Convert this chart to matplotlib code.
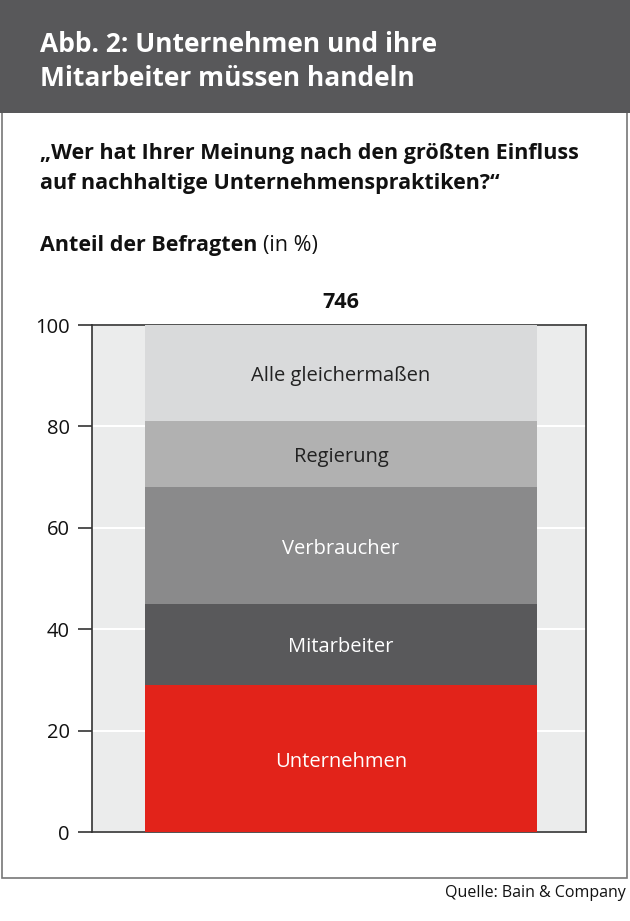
import matplotlib
matplotlib.use("Agg")
import matplotlib.pyplot as plt
from matplotlib.patches import Rectangle

plt.rcParams['font.family'] = ['Open Sans', 'DejaVu Sans']

# data (share of respondents, %)
categories = ["Unternehmen", "Mitarbeiter", "Verbraucher", "Regierung", "Alle gleichermaßen"]
values = [29, 16, 23, 13, 19]
colors = ["#e2231a", "#59595b", "#8a8a8b", "#b1b1b1", "#d9dadb"]
label_colors = ["white", "white", "white", "#222222", "#222222"]
bar_label = "746"
yticks = [0, 20, 40, 60, 80, 100]

W, H = 630, 921
fig = plt.figure(figsize=(W / 100, H / 100), dpi=100)

def fx(px):
    return px / W

def fy(py):
    return 1 - py / H

# outer frame and header
fig.patches.append(Rectangle((fx(2), fy(878)), fx(625), 876 / H, transform=fig.transFigure,
                             facecolor="white", edgecolor="#777777", lw=1.2, zorder=0))
fig.patches.append(Rectangle((0, fy(113)), 1, 113 / H, transform=fig.transFigure,
                             facecolor="#58585a", edgecolor="none", zorder=1))

fig.text(fx(40), fy(45), "Abb. 2: Unternehmen und ihre", color="white", fontsize=19,
         fontweight="bold", va="center")
fig.text(fx(40), fy(78), "Mitarbeiter müssen handeln", color="white", fontsize=19,
         fontweight="bold", va="center")

fig.text(fx(40), fy(153), "„Wer hat Ihrer Meinung nach den größten Einfluss", color="#111111",
         fontsize=15.5, fontweight="bold", va="center")
fig.text(fx(40), fy(184), "auf nachhaltige Unternehmenspraktiken?“", color="#111111",
         fontsize=15.5, fontweight="bold", va="center")

t = fig.text(fx(40), fy(246), "Anteil der Befragten", color="#111111", fontsize=15.5,
             fontweight="bold", va="center")
fig.canvas.draw()
bb = t.get_window_extent()
fig.text(bb.x1 / W + fx(6), fy(246), "(in %)", color="#111111", fontsize=15.5, va="center")

fig.text(fx(626), fy(893), "Quelle: Bain & Company", color="#111111", fontsize=11.5,
         ha="right", va="center")

# chart
ax = fig.add_axes([fx(92), fy(832), fx(586 - 92), (832 - 325) / H], zorder=3)
ax.set_facecolor("#ebecec")
bottom = 0
for cat, v, c, lc in zip(categories, values, colors, label_colors):
    ax.bar(0.004, v, bottom=bottom, width=0.793, color=c, zorder=3)
    ax.text(0.004, bottom + v / 2 - 0.6, cat, ha="center", va="center", color=lc, fontsize=14.5,
            zorder=4)
    bottom += v

ax.text(0.004, 104.4, bar_label, ha="center", va="center", fontsize=15.5, fontweight="bold",
        color="#111111", clip_on=False)

ax.set_xlim(-0.5, 0.5)
ax.set_ylim(0, 100)
ax.set_yticks(yticks)
ax.set_xticks([])
ax.yaxis.grid(True, color="white", lw=1.5, zorder=1)
ax.set_axisbelow(True)
ax.tick_params(axis="y", length=10, width=1.2, color="#333333", labelsize=14.5,
               labelcolor="#111111", pad=6)
for s in ax.spines.values():
    s.set_color("#333333")
    s.set_linewidth(1.2)

fig.savefig("out.png", dpi=100)
